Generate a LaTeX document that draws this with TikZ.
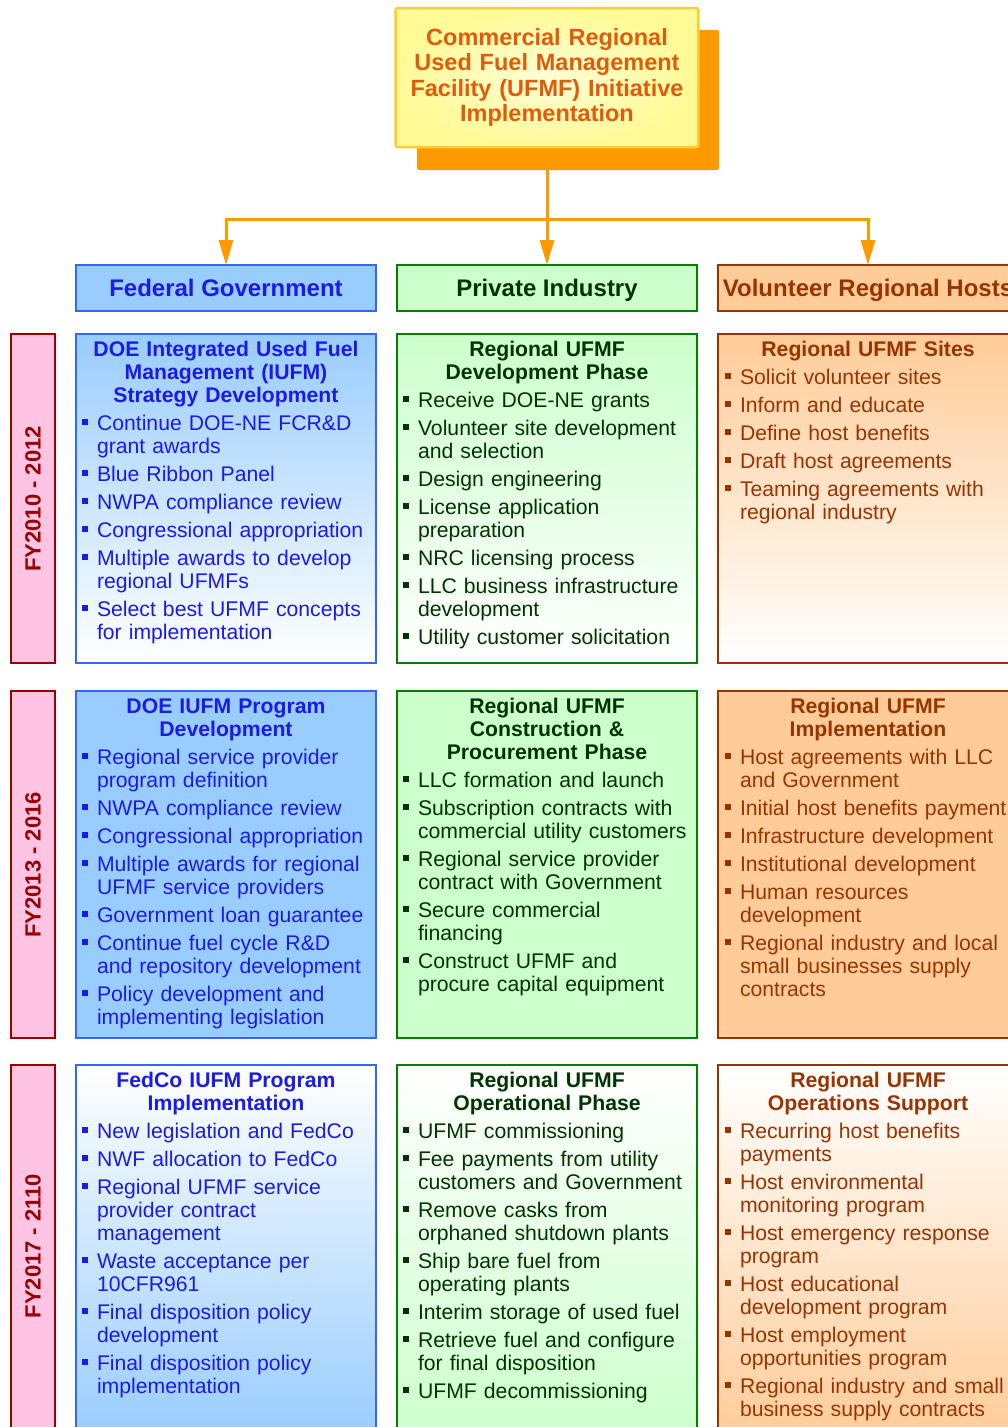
\documentclass[tikz,border=0pt]{standalone}
\usepackage{fontspec}
\setmainfont{Liberation Sans}
\usetikzlibrary{arrows.meta}

\definecolor{fedfill}{RGB}{153,204,255}
\definecolor{fedline}{RGB}{51,102,255}
\definecolor{fedtext}{RGB}{26,26,235}
\definecolor{indfill}{RGB}{204,255,204}
\definecolor{indline}{RGB}{0,128,0}
\definecolor{indtext}{RGB}{0,51,0}
\definecolor{hostfill}{RGB}{255,204,153}
\definecolor{hostline}{RGB}{153,51,0}
\definecolor{hosttext}{RGB}{153,51,0}
\definecolor{yearfill}{RGB}{255,196,228}
\definecolor{yearline}{RGB}{153,0,0}
\definecolor{connorange}{RGB}{255,153,0}
\definecolor{titletext}{RGB}{224,92,12}
\definecolor{titleline}{RGB}{255,204,51}
\definecolor{titlefill}{RGB}{255,250,150}
\definecolor{titlecore}{RGB}{255,255,215}

\newlength{\txtindent}
% heading line, centred across the box
\newcommand\hd[1]{\par\noindent\makebox[\hsize][c]{\bfseries\strut #1}}
% bullet item (first line) and continuation line
\newcommand\bi[1]{\par\vspace{5pt}\noindent\hspace*{\txtindent}\llap{\raisebox{5.5pt}{\rule{6pt}{6pt}}\hspace{9pt}}\strut#1}
\newcommand\cl[1]{\par\noindent\hspace*{\txtindent}\strut#1}

\tikzset{
  box/.style={draw, line width=2.5pt, outer sep=0pt, inner sep=0pt, anchor=north west, minimum width=300pt},
  fedA/.style={box, draw=fedline, top color=fedfill, bottom color=white},
  fedB/.style={box, draw=fedline, top color=fedfill, middle color=white, bottom color=fedfill},
  fedC/.style={box, draw=fedline, top color=white, bottom color=fedfill},
  indA/.style={box, draw=indline, top color=indfill, bottom color=white},
  indB/.style={box, draw=indline, top color=indfill, middle color=white, bottom color=indfill},
  indC/.style={box, draw=indline, top color=white, bottom color=indfill},
  hostA/.style={box, draw=hostline, top color=hostfill, bottom color=white},
  hostB/.style={box, draw=hostline, top color=hostfill, middle color=white, bottom color=hostfill},
  hostC/.style={box, draw=hostline, top color=white, bottom color=hostfill},
  hdr/.style={box, minimum height=46pt, text height=22pt, text depth=5pt,
    font=\bfseries\fontsize{24}{26}\selectfont},
  yearbox/.style={draw=yearline, fill=yearfill, line width=2.5pt, outer sep=0pt,
    anchor=north west, minimum width=44pt},
  yeartxt/.style={rotate=90, text=yearline, font=\bfseries\fontsize{22}{24}\selectfont},
  txt/.style={anchor=north, inner sep=0pt, text width=300pt, align=left,
    font=\fontsize{21.2}{23}\selectfont},
  fedtxt/.style={txt, text=fedtext, execute at begin node={\setlength{\txtindent}{21pt}}},
  indtxt/.style={txt, text=indtext, execute at begin node={\setlength{\txtindent}{21pt}}},
  hosttxt/.style={txt, text=hosttext, execute at begin node={\setlength{\txtindent}{22pt}}},
  conn/.style={draw=connorange, line width=3pt},
  connarrow/.style={conn, -{Triangle[length=25pt,width=14pt]}},
}

\begin{document}
\begin{tikzpicture}[x=1pt,y=-1pt]
\useasboundingbox (0,0) rectangle (1008,1427);
\clip (0,0) rectangle (1008,1427);

% title with its drop shadow
\node[fill=connorange, outer sep=0pt, minimum width=302pt, minimum height=140pt, rounded corners=2pt]
  (titleshadow) at (568,100) {};
\node[draw=titleline, line width=2.5pt, outer sep=0pt, shading=radial, inner color=titlecore,
  outer color=titlefill, minimum width=300pt, minimum height=139pt, rounded corners=2pt,
  text width=296pt, align=center, text=titletext,
  font=\bfseries\fontsize{23.5}{25.3}\selectfont]
  (title) at (547,77.5)
  {Commercial Regional\\Used Fuel Management\\Facility (UFMF) Initiative\\Implementation};

% column headers
\node[hdr, draw=fedline, fill=fedfill, text=fedtext] (fedh) at (76,265) {Federal Government};
\node[hdr, draw=indline, fill=indfill, text=indtext] (indh) at (397,265) {Private Industry};
\node[hdr, draw=hostline, fill=hostfill, text=hosttext] (hosth) at (718,265) {Volunteer Regional Hosts};

% distribution connector
\coordinate (split) at (547,219);
\draw[conn] (title.south |- titleshadow.south) -- (split);
\draw[connarrow] (split) -| (fedh.north);
\draw[connarrow] (split) -- (indh.north);
\draw[connarrow] (split) -| (hosth.north);

% period labels
\node[yearbox, minimum height=329pt] (y1) at (11,334) {};
\node[yearbox, minimum height=347pt] (y2) at (11,691) {};
\node[yearbox, minimum height=380pt] (y3) at (11,1065) {};
\node[yeartxt] (y1t) at (33,499) {FY2010 - 2012};
\node[yeartxt] (y2t) at (33,865) {FY2013 - 2016};
\node[yeartxt] (y3t) at (33,1246) {FY2017 - 2110};

% content boxes
\node[fedA, minimum height=329pt] (f1) at (76,334) {};
\node[indA, minimum height=329pt] (i1) at (397,334) {};
\node[hostA, minimum height=329pt] (h1) at (718,334) {};
\node[fedB, minimum height=347pt] (f2) at (76,691) {};
\node[indB, minimum height=347pt] (i2) at (397,691) {};
\node[hostB, minimum height=347pt] (h2) at (718,691) {};
\node[fedC, minimum height=372pt] (f3) at (76,1065) {};
\node[indC, minimum height=372pt] (i3) at (397,1065) {};
\node[hostC, minimum height=372pt] (h3) at (718,1065) {};

% FY2010 - 2012
\node[fedtxt] (f1t) at ([yshift=1pt]f1.north) {%
\hd{DOE Integrated Used Fuel}\hd{Management (IUFM)}\hd{Strategy Development}
\bi{Continue DOE-NE FCR\&D}\cl{grant awards}
\bi{Blue Ribbon Panel}
\bi{NWPA compliance review}
\bi{Congressional appropriation}
\bi{Multiple awards to develop}\cl{regional UFMFs}
\bi{Select best UFMF concepts}\cl{for implementation}};

\node[indtxt] (i1t) at ([yshift=1pt]i1.north) {%
\hd{Regional UFMF}\hd{Development Phase}
\bi{Receive DOE-NE grants}
\bi{Volunteer site development}\cl{and selection}
\bi{Design engineering}
\bi{License application}\cl{preparation}
\bi{NRC licensing process}
\bi{LLC business infrastructure}\cl{development}
\bi{Utility customer solicitation}};

\node[hosttxt] (h1t) at ([yshift=1pt]h1.north) {%
\hd{Regional UFMF Sites}
\bi{Solicit volunteer sites}
\bi{Inform and educate}
\bi{Define host benefits}
\bi{Draft host agreements}
\bi{Teaming agreements with}\cl{regional industry}};

% FY2013 - 2016
\node[fedtxt] (f2t) at ([yshift=1pt]f2.north) {%
\hd{DOE IUFM Program}\hd{Development}
\bi{Regional service provider}\cl{program definition}
\bi{NWPA compliance review}
\bi{Congressional appropriation}
\bi{Multiple awards for regional}\cl{UFMF service providers}
\bi{Government loan guarantee}
\bi{Continue fuel cycle R\&D}\cl{and repository development}
\bi{Policy development and}\cl{implementing legislation}};

\node[indtxt] (i2t) at ([yshift=1pt]i2.north) {%
\hd{Regional UFMF}\hd{Construction \&}\hd{Procurement Phase}
\bi{LLC formation and launch}
\bi{Subscription contracts with}\cl{commercial utility customers}
\bi{Regional service provider}\cl{contract with Government}
\bi{Secure commercial}\cl{financing}
\bi{Construct UFMF and}\cl{procure capital equipment}};

\node[hosttxt] (h2t) at ([yshift=1pt]h2.north) {%
\hd{Regional UFMF}\hd{Implementation}
\bi{Host agreements with LLC}\cl{and Government}
\bi{Initial host benefits payment}
\bi{Infrastructure development}
\bi{Institutional development}
\bi{Human resources}\cl{development}
\bi{Regional industry and local}\cl{small businesses supply}\cl{contracts}};

% FY2017 - 2110
\node[fedtxt] (f3t) at ([yshift=1pt]f3.north) {%
\hd{FedCo IUFM Program}\hd{Implementation}
\bi{New legislation and FedCo}
\bi{NWF allocation to FedCo}
\bi{Regional UFMF service}\cl{provider contract}\cl{management}
\bi{Waste acceptance per}\cl{10CFR961}
\bi{Final disposition policy}\cl{development}
\bi{Final disposition policy}\cl{implementation}};

\node[indtxt] (i3t) at ([yshift=1pt]i3.north) {%
\hd{Regional UFMF}\hd{Operational Phase}
\bi{UFMF commissioning}
\bi{Fee payments from utility}\cl{customers and Government}
\bi{Remove casks from}\cl{orphaned shutdown plants}
\bi{Ship bare fuel from}\cl{operating plants}
\bi{Interim storage of used fuel}
\bi{Retrieve fuel and configure}\cl{for final disposition}
\bi{UFMF decommissioning}};

\node[hosttxt] (h3t) at ([yshift=1pt]h3.north) {%
\hd{Regional UFMF}\hd{Operations Support}
\bi{Recurring host benefits}\cl{payments}
\bi{Host environmental}\cl{monitoring program}
\bi{Host emergency response}\cl{program}
\bi{Host educational}\cl{development program}
\bi{Host employment}\cl{opportunities program}
\bi{Regional industry and small}\cl{business supply contracts}};
\end{tikzpicture}
\end{document}
